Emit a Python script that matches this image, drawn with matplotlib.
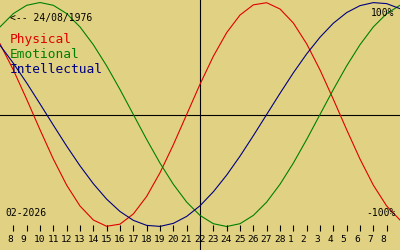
import matplotlib
matplotlib.use("Agg")
import matplotlib.pyplot as plt

# Days shown (Feb 7 .. Mar 9, 2026), day 22 = today marker
days = list(range(7, 38))
physical = [0.631, 0.398, 0.136, -0.136, -0.398, -0.631, -0.817, -0.942, -0.998, -0.979,
            -0.888, -0.731, -0.520, -0.270, 0.0, 0.270, 0.520, 0.731, 0.888, 0.979,
            0.998, 0.942, 0.817, 0.631, 0.398, 0.136, -0.136, -0.398, -0.631, -0.817, -0.942]
emotional = [0.782, 0.901, 0.975, 1.0, 0.975, 0.901, 0.782, 0.623, 0.434, 0.223,
             0.0, -0.223, -0.434, -0.623, -0.782, -0.901, -0.975, -1.0, -0.975, -0.901,
             -0.782, -0.623, -0.434, -0.223, 0.0, 0.223, 0.434, 0.623, 0.782, 0.901, 0.975]
intellectual = [0.618, 0.458, 0.282, 0.095, -0.095, -0.282, -0.458, -0.618, -0.756, -0.866,
                -0.945, -0.990, -0.999, -0.972, -0.910, -0.815, -0.690, -0.541, -0.372, -0.189,
                0.0, 0.189, 0.372, 0.541, 0.690, 0.815, 0.910, 0.972, 0.999, 0.990, 0.945]
tick_days = list(range(8, 37))
tick_labels = [str(d) for d in range(8, 29)] + [str(d) for d in range(1, 9)]
today = 22
birth_label = "<-- 24/08/1976"
month_label = "02-2026"
series_names = ["Physical", "Emotional", "Intellectual"]

BG = "#E1D283"
RED = "#E00000"
GREEN = "#008000"
BLUE = "#000080"
W, H = 400, 250

fig = plt.figure(figsize=(4, 2.5), dpi=100, facecolor=BG)
ax = fig.add_axes([0, 0, 1, 1])
ax.set_facecolor(BG)
ax.set_xlim(7, 37)
# pixel y = 114.5 - 112*v
ax.set_ylim((114.5 - H) / 112.0, 114.5 / 112.0)
ax.axis("off")

lw = 0.8
ax.axhline(0, color="black", lw=lw)
ax.axvline(today, color="black", lw=lw)

ax.plot(days, physical, color=RED, lw=lw)
ax.plot(days, emotional, color=GREEN, lw=lw)
ax.plot(days, intellectual, color=BLUE, lw=lw)

def pv(py):
    return (114.5 - py) / 112.0

ax.vlines(tick_days, pv(225), pv(231), color="black", lw=lw)

def ftext(px, py, s, **kw):
    fig.text(px / W, 1 - py / H, s, **kw)

mono = "DejaVu Sans Mono"
day_w = W / 30.0
for d, lab in zip(tick_days, tick_labels):
    px = (d - 7) * day_w - 6
    ftext(px, 242, lab, family=mono, fontsize=6.8, ha="left", va="baseline", color="black")

ftext(10, 21, birth_label, family=mono, fontsize=7, ha="left", va="baseline", color="black")
ftext(10, 43, series_names[0], family=mono, fontsize=9.3, ha="left", va="baseline", color=RED)
ftext(10, 58, series_names[1], family=mono, fontsize=9.3, ha="left", va="baseline", color=GREEN)
ftext(10, 73, series_names[2], family=mono, fontsize=9.3, ha="left", va="baseline", color=BLUE)
ftext(394, 16, "100%", family=mono, fontsize=7, ha="right", va="baseline", color="black")
ftext(396, 216, "-100%", family=mono, fontsize=7, ha="right", va="baseline", color="black")
ftext(5, 216, month_label, family=mono, fontsize=7, ha="left", va="baseline", color="black")

fig.savefig("out.png", dpi=100, facecolor=BG)
